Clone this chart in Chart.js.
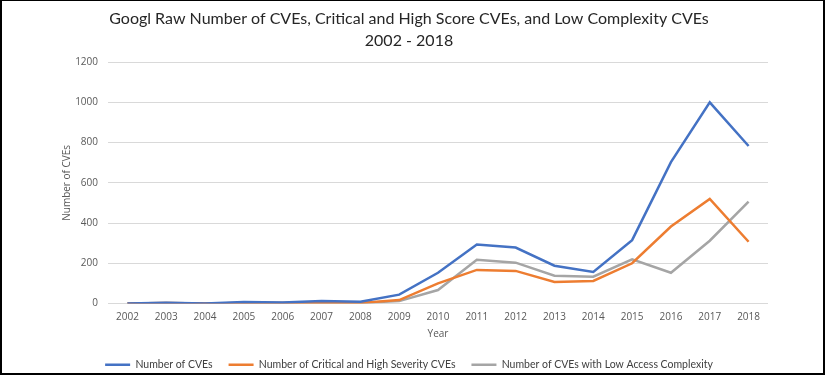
<!DOCTYPE html>
<html>
<head>
<meta charset="utf-8">
<script src="https://cdn.jsdelivr.net/npm/chart.js@4"></script>
<style>
  html, body { margin: 0; padding: 0; background: #fff; }
  #wrap { position: relative; width: 825px; height: 375px; }
  #frame { position: absolute; left: 0; top: 0; width: 825px; height: 375px; box-sizing: border-box;
           border: 2px solid #000; border-top-width: 1px; pointer-events: none; }
  canvas { position: absolute; left: 0; top: 0; }
</style>
</head>
<body>
<div id="wrap">
  <canvas id="chart" width="825" height="375"></canvas>
  <div id="frame"></div>
</div>
<script>
// chart data
const years = ['2002', '2003', '2004', '2005', '2006', '2007', '2008', '2009', '2010',
               '2011', '2012', '2013', '2014', '2015', '2016', '2017', '2018'];
const totalCves = [0, 4, 0, 8, 5, 13, 9, 44, 153, 293, 278, 188, 157, 315, 703, 1000, 783];
const criticalHigh = [0, 2, 0, 2, 2, 4, 3, 17, 100, 167, 162, 107, 112, 200, 383, 520, 307];
const lowComplexity = [0, 3, 0, 3, 2, 5, 3, 12, 67, 217, 203, 138, 133, 220, 153, 312, 507];
const seriesNames = ['Number of CVEs', 'Number of Critical and High Severity CVEs',
                     'Number of CVEs with Low Access Complexity'];
const titleLines = ['Googl Raw Number of CVEs, Critical and High Score CVEs, and Low Complexity CVEs',
                    '2002 - 2018'];

const tickColor = '#595959';
const gridColor = '#D9D9D9';

function lineSet(label, data, color) {
  return {
    label: label,
    data: data,
    borderColor: color,
    backgroundColor: color,
    borderWidth: 2.5,
    pointRadius: 0,
    tension: 0,
    fill: false
  };
}

new Chart(document.getElementById('chart').getContext('2d'), {
  type: 'line',
  data: {
    labels: years,
    datasets: [
      lineSet(seriesNames[0], totalCves, '#4472C4'),
      lineSet(seriesNames[1], criticalHigh, '#ED7D31'),
      lineSet(seriesNames[2], lowComplexity, '#A5A5A5')
    ]
  },
  options: {
    responsive: false,
    animation: false,
    devicePixelRatio: 1,
    layout: { padding: { left: 50, right: 57, top: 8, bottom: -5 } },
    plugins: {
      title: {
        display: true,
        text: titleLines,
        color: '#262626',
        font: { family: 'Lato', size: 16, weight: 'normal', lineHeight: 1.38 },
        padding: { top: 0, bottom: 10 }
      },
      legend: {
        position: 'bottom',
        labels: {
          usePointStyle: true,
          pointStyle: 'line',
          pointStyleWidth: 25,
          color: '#404040',
          font: { family: 'Lato', size: 10.5 },
          padding: 16
        }
      },
      tooltip: { enabled: false }
    },
    scales: {
      x: {
        offset: true,
        grid: { display: false, drawTicks: false },
        border: { display: false },
        ticks: { color: tickColor, font: { family: 'Open Sans', size: 10 }, padding: 8, maxRotation: 0 },
        title: { display: true, text: 'Year', color: tickColor, font: { family: 'Open Sans', size: 10 }, padding: { top: 0, bottom: 3 } },
        afterFit: (scale) => { scale.height = 40; }
      },
      y: {
        min: 0,
        max: 1200,
        grid: { color: gridColor, lineWidth: 1, drawTicks: false },
        border: { display: false },
        ticks: { stepSize: 200, color: tickColor, font: { family: 'Open Sans', size: 10 }, padding: 10,
                 callback: (value) => String(value) },
        title: { display: true, text: 'Number of CVEs', color: tickColor, font: { family: 'Open Sans', size: 10 }, padding: { top: 11, bottom: 0 } },
        afterFit: (scale) => { scale.width = 58; }
      }
    }
  }
});
</script>
</body>
</html>
